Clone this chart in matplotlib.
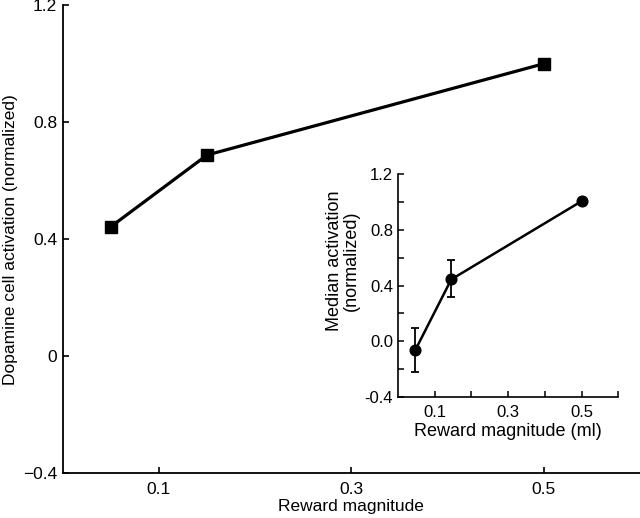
import matplotlib.pyplot as plt
import numpy as np

plt.rcParams['font.family'] = ['Liberation Sans', 'DejaVu Sans']

# main panel data
reward = [0.05, 0.15, 0.5]
activation = [0.443, 0.688, 1.0]

# inset data (median activation with asymmetric error bars)
reward_ml = [0.047, 0.145, 0.5]
median_act = [-0.063, 0.444, 1.005]
err_lo = [0.155, 0.129, 0.02]
err_hi = [0.158, 0.139, 0.02]

fig = plt.figure(figsize=(6.4, 5.18), dpi=100)

ax = fig.add_axes([0.098, 0.086, 0.902, 0.904])
ax.plot(reward, activation, color='black', lw=2.3, marker='s', ms=8)
ax.set_xlim(0.0, 0.6)
ax.set_ylim(-0.4, 1.2)
ax.set_xticks([0.1, 0.3, 0.5])
ax.set_xticklabels(['0.1', '0.3', '0.5'])
ax.set_yticks([-0.4, 0, 0.4, 0.8, 1.2])
ax.set_yticklabels(['\u22120.4', '0', '0.4', '0.8', '1.2'])
ax.tick_params(direction='in', length=4, width=1.2, labelsize=12.5, colors='black')
ax.tick_params(axis='x', pad=6)
ax.tick_params(axis='y', pad=4)
for s in ['top', 'right']:
    ax.spines[s].set_visible(False)
for s in ['left', 'bottom']:
    ax.spines[s].set_linewidth(1.3)
ax.set_xlabel('Reward magnitude', fontsize=12.5)
ax.xaxis.set_label_coords(0.5, -0.054)
ax.set_ylabel('Dopamine cell activation (normalized)', fontsize=12.5)
ax.yaxis.set_label_coords(-0.078, 0.5)

# inset
ins = fig.add_axes([0.622, 0.2336, 0.344, 0.4304])
ins.errorbar(reward_ml, median_act, yerr=[err_lo, err_hi], color='black',
             lw=1.8, marker='o', ms=7.7, capsize=3, elinewidth=1.3, capthick=1.3)
ins.set_xlim(0.0, 0.6)
ins.set_ylim(-0.4, 1.2)
ins.set_xticks([0.1, 0.3, 0.5])
ins.set_xticklabels(['0.1', '0.3', '0.5'])
ins.set_xticks([0.2, 0.4, 0.6], minor=True)
ins.set_yticks([-0.4, 0.0, 0.4, 0.8, 1.2])
ins.set_yticklabels(['-0.4', '0.0', '0.4', '0.8', '1.2'])
ins.set_yticks([-0.2, 0.2, 0.6, 1.0], minor=True)
ins.tick_params(which='both', direction='in', length=4, width=1.1,
                labelsize=12, colors='black')
ins.tick_params(axis='x', pad=6)
for s in ['top', 'right']:
    ins.spines[s].set_visible(False)
for s in ['left', 'bottom']:
    ins.spines[s].set_linewidth(1.2)
ins.set_xlabel('Reward magnitude (ml)', fontsize=13, labelpad=2)
ins.set_ylabel('Median activation\n(normalized)', fontsize=13, linespacing=1.0)
ins.yaxis.set_label_coords(-0.175, 0.61)

fig.savefig('out.png', dpi=100)
